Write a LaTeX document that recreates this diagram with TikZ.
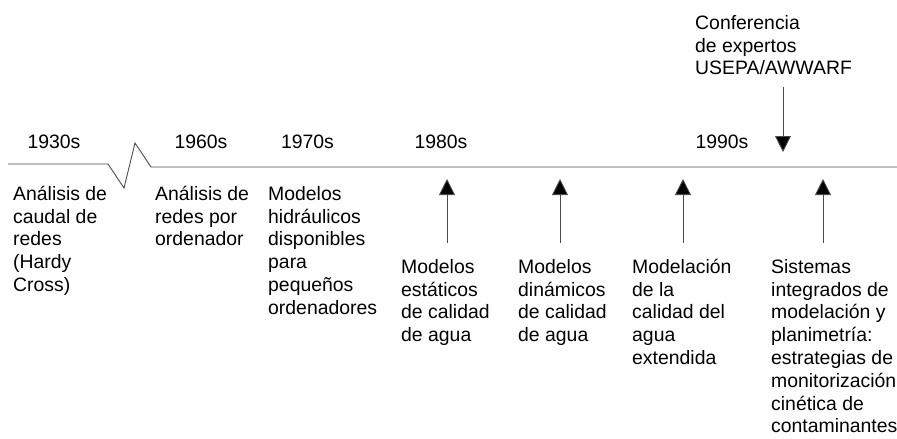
\documentclass[tikz,border=0pt]{standalone}
\usepackage{fontspec}
\setmainfont{Liberation Sans}
\usetikzlibrary{arrows.meta}
\newcommand{\fl}{\rule{0pt}{17pt}}
\tikzset{
  txt/.style={anchor=north west, inner sep=0pt, align=left, font=\fontsize{19.4}{22.8}\selectfont},
  yr/.style={anchor=base, inner sep=0pt, font=\fontsize{19.4}{22.8}\selectfont},
  tl/.style={line width=0.9pt, draw=black!70},
  arr/.style={line width=0.9pt, draw=black!70, -{Triangle[width=16pt,length=16pt,fill=black]}}
}
\begin{document}
\begin{tikzpicture}[x=1pt,y=-1pt]
\useasboundingbox (0,0) rectangle (897,439);
% timeline
\coordinate (l0) at (8,164);
\coordinate (l1) at (108,164);
\coordinate (z1) at (124,188);
\coordinate (z2) at (135,143);
\coordinate (r0) at (151,167);
\coordinate (r1) at (897,167);
\draw[tl] (l0) -- (l1) -- (z1) -- (z2) -- (r0) -- (r1);
% years
\node[yr] (y30) at (54,148) {1930s};
\node[yr] (y60) at (201,148) {1960s};
\node[yr] (y70) at (307.5,148) {1970s};
\node[yr] (y80) at (441,148) {1980s};
\node[yr] (y90) at (722,148) {1990s};
% texts (first baseline = y + 17)
\node[txt] (t1) at (13,183) {\fl Análisis de\\caudal de\\redes\\(Hardy\\Cross)};
\node[txt] (t2) at (155,183) {\fl Análisis de\\redes por\\ordenador};
\node[txt] (t3) at (268,183) {\fl Modelos\\hidráulicos\\disponibles\\para\\pequeños\\ordenadores};
\node[txt] (t4) at (401,256) {\fl Modelos\\estáticos\\de calidad\\de agua};
\node[txt] (t5) at (518,256) {\fl Modelos\\dinámicos\\de calidad\\de agua};
\node[txt] (t6) at (632,256) {\fl Modelación\\de la\\calidad del\\agua\\extendida};
\node[txt] (t7) at (771,256) {\fl Sistemas\\integrados de\\modelación y\\planimetría:\\estrategias de\\monitorización\\cinética de\\contaminantes};
\node[txt] (t8) at (695,12) {\fl Conferencia\\de expertos\\USEPA/AWWARF};
% arrows
\coordinate (a4s) at (447,243); \coordinate (a4e) at (447,179);
\coordinate (a5s) at (560,243); \coordinate (a5e) at (560,179);
\coordinate (a6s) at (683,243); \coordinate (a6e) at (683,179);
\coordinate (a7s) at (823,243); \coordinate (a7e) at (823,179);
\coordinate (a8s) at (783,87);  \coordinate (a8e) at (783,152);
\draw[arr] (a4s) -- (a4e);
\draw[arr] (a5s) -- (a5e);
\draw[arr] (a6s) -- (a6e);
\draw[arr] (a7s) -- (a7e);
\draw[arr] (a8s) -- (a8e);
\end{tikzpicture}
\end{document}
